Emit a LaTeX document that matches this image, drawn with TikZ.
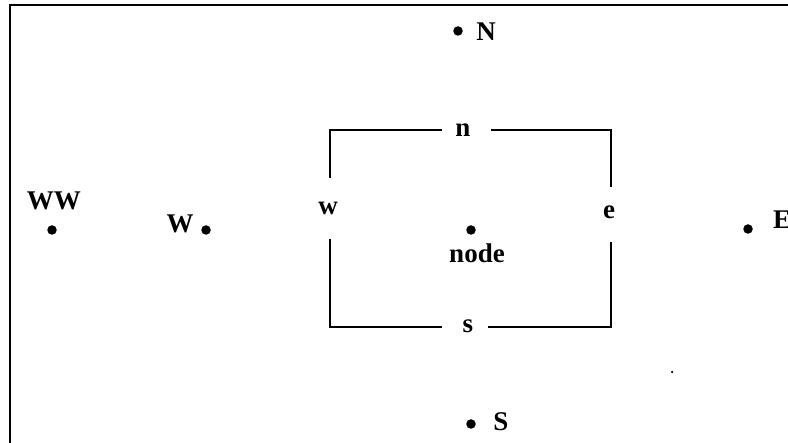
\documentclass[tikz,border=0pt]{standalone}
\usepackage{fontspec}
\setmainfont{Liberation Serif}
\begin{document}
\begin{tikzpicture}[x=1pt,y=-1pt,
  lbl/.style={font=\fontsize{27}{27}\selectfont\bfseries, inner sep=0pt, anchor=base},
  dotmark/.style={circle, fill=black, inner sep=0pt, minimum size=9.5pt},
  edge/.style={line width=2.8pt, line cap=butt},
  framestyle/.style={line width=2.2pt}]
\useasboundingbox (0,0) rectangle (788,443);
\clip (0,0) rectangle (788,443);
% frame
\coordinate (fbl) at (10,450);
\coordinate (ftl) at (10,5);
\coordinate (ftr) at (800,5);
\draw[framestyle] (fbl) -- (ftl) -- (ftr);
% dots
\node[dotmark] (dWW) at (52,230) {};
\node[dotmark] (dW) at (206,230) {};
\node[dotmark] (dnode) at (471,230) {};
\node[dotmark] (dN) at (458,31) {};
\node[dotmark] (dE) at (748,229) {};
\node[dotmark] (dS) at (471,424) {};
\node[circle, fill=black, inner sep=0pt, minimum size=2.5pt] (speck) at (672,372) {};
% labels
\node[lbl] (tWW) at (54,210) {WW};
\node[lbl] (tW) at (180,233) {W};
\node[lbl] (tnode) at (477,263) {node};
\node[lbl] (tN) at (486,41) {N};
\node[lbl, anchor=base west] (tE) at (773,229) {E};
\node[lbl] (tS) at (501,431) {S};
\node[lbl] (tn) at (463,137) {n};
\node[lbl] (tw) at (328,215) {w};
\node[lbl] (te) at (609,219) {e};
\node[lbl] (ts) at (468,333) {s};
% box corners and gaps
\coordinate (nw) at (330,130);
\coordinate (ne) at (611,130);
\coordinate (sw) at (330,327);
\coordinate (se) at (611,327);
\coordinate (n1) at (442,130);
\coordinate (n2) at (491,130);
\coordinate (s1) at (442,327);
\coordinate (s2) at (488,327);
\coordinate (w1) at (330,178);
\coordinate (w2) at (330,239);
\coordinate (e1) at (611,187);
\coordinate (e2) at (611,242);
\draw[edge] (w1) -- (nw) -- (n1);
\draw[edge] (n2) -- (ne) -- (e1);
\draw[edge] (w2) -- (sw) -- (s1);
\draw[edge] (s2) -- (se) -- (e2);
\end{tikzpicture}
\end{document}
